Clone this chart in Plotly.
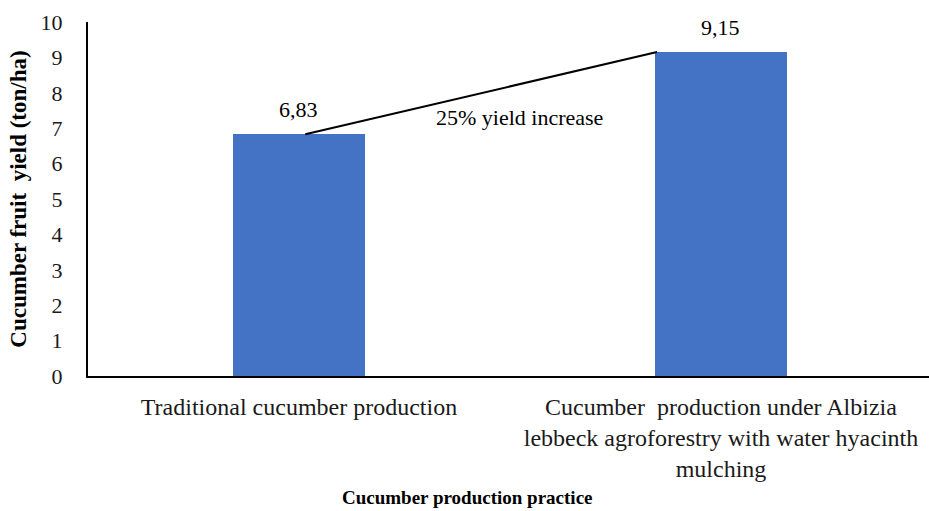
import plotly.graph_objects as go

# Yield data
categories = [
    "Traditional cucumber production",
    "Cucumber  production under Albizia<br>lebbeck agroforestry with water hyacinth<br>mulching",
]
yields = [6.83, 9.15]
value_labels = ["6,83", "9,15"]
y_ticks = list(range(0, 11))

FONT = "Liberation Serif"
BAR_COLOR = "#4472C4"
BAR_WIDTH = 0.313

x_pos = list(range(len(categories)))

fig = go.Figure()
fig.add_trace(go.Bar(
    x=x_pos, y=yields, width=BAR_WIDTH,
    marker=dict(color=BAR_COLOR, line=dict(width=0)),
    hoverinfo="skip", showlegend=False,
))

# Connector line between the two bar tops
fig.add_trace(go.Scatter(
    x=[x_pos[0] + 0.015, x_pos[1] - BAR_WIDTH / 2 + 0.005],
    y=[yields[0], yields[1]],
    mode="lines", line=dict(color="black", width=2),
    hoverinfo="skip", showlegend=False,
))

annotations = []
for xi, yv, lab in zip(x_pos, yields, value_labels):
    annotations.append(dict(
        x=xi, y=yv, text=lab, showarrow=False, yanchor="middle",
        yshift=25, font=dict(family=FONT, size=22, color="black"),
    ))
annotations.append(dict(
    x=0.5, y=7.3, text="25% yield increase", showarrow=False,
    yanchor="middle", xshift=10,
    font=dict(family=FONT, size=22, color="black"),
))
# Horizontal axis title, centred on the page
annotations.append(dict(
    xref="paper", yref="paper", x=(467 - 88) / 841, y=0,
    yanchor="middle", yshift=-(497 - 376),
    text="<b>Cucumber production practice</b>", showarrow=False,
    font=dict(family=FONT, size=19, color="black"),
))

fig.update_layout(
    width=929, height=511,
    margin=dict(l=88, r=0, t=22, b=135),
    paper_bgcolor="white", plot_bgcolor="white",
    font=dict(family=FONT, color="black"),
    annotations=annotations,
    bargap=0,
)
fig.update_xaxes(
    range=[-0.5, 1.493], tickmode="array", tickvals=x_pos, ticktext=categories,
    tickfont=dict(family=FONT, size=24, color="#1a1a1a"),
    showline=True, linecolor="black", linewidth=2, showgrid=False, zeroline=False,
    ticks="", ticklabelstandoff=8,
)
fig.update_yaxes(
    range=[0, 10], tickvals=y_ticks,
    tickfont=dict(family=FONT, size=22, color="#1a1a1a"),
    showline=True, linecolor="black", linewidth=2, showgrid=False, zeroline=False,
    ticks="", ticklabelstandoff=19,
    title=dict(text="<b>Cucumber fruit  yield (ton/ha)</b>",
               font=dict(family=FONT, size=23, color="black"), standoff=8),
)

fig.write_html("out.html")
